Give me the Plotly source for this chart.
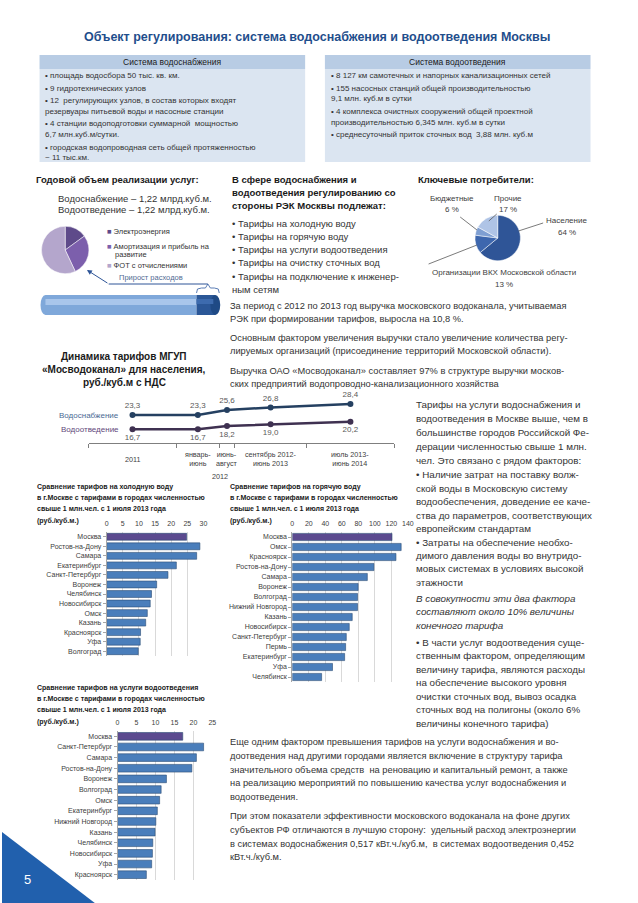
import plotly.graph_objects as go
import pandas as pd

# ---------------- DATA ----------------
cost_labels = ["Электроэнергия", "Амортизация и прибыль на развитие", "ФОТ с отчислениями"]
cost_values = [15, 28, 57]

consumer_labels = ["Население", "Организации ВКХ Московской области", "Бюджетные", "Прочие"]
consumer_values = [64, 13, 6, 17]

period_labels = ["2011", "январь-<br>июнь", "июнь-<br>август", "сентябрь 2012-<br>июнь 2013", "июль 2013-<br>июнь 2014"]
period_start = ["2011-01-01", "2012-01-01", "2012-07-01", "2012-09-01", "2013-07-01"]
period_end = ["2012-01-01", "2012-07-01", "2012-09-01", "2013-07-01", "2014-07-01"]
supply_tariff = [23.3, 23.3, 25.6, 26.8, 28.4]
disposal_tariff = [16.7, 16.7, 18.2, 19.0, 20.2]

cold_cities = ["Москва", "Ростов-на-Дону", "Самара", "Екатеринбург", "Санкт-Петербург", "Воронеж",
               "Челябинск", "Новосибирск", "Омск", "Казань", "Красноярск", "Уфа", "Волгоград"]
cold_values = [24.8, 28.9, 27.9, 21.6, 19.0, 15.5, 13.9, 13.5, 12.6, 12.1, 10.5, 10.4, 9.8]

hot_cities = ["Москва", "Омск", "Красноярск", "Ростов-на-Дону", "Самара", "Воронеж", "Волгоград",
              "Нижний Новгород", "Казань", "Новосибирск", "Санкт-Петербург", "Пермь", "Екатеринбург",
              "Уфа", "Челябинск"]
hot_values = [120.8, 131.9, 125.6, 98.9, 90.9, 79.8, 79.0, 79.0, 72.6, 69.0, 65.4, 64.6, 63.4, 48.7, 35.5]

waste_cities = ["Москва", "Санкт-Петербург", "Самара", "Ростов-на-Дону", "Воронеж", "Волгоград", "Омск",
                "Екатеринбург", "Нижний Новгород", "Казань", "Челябинск", "Новосибирск", "Уфа", "Красноярск"]
waste_values = [17.2, 22.7, 20.8, 19.6, 12.9, 11.5, 11.1, 10.5, 10.1, 9.9, 9.3, 9.2, 9.0, 7.6]

# ---------------- HELPERS ----------------
W, H = 638, 903
FONT = "Liberation Sans"
TXT = "#404040"
BLUE_T = "#1F4E8C"


def fx(x):
    return x / W


def fy(y):
    return 1 - y / H


annotations = []
shapes = []


def txt(x, y, s, size=9.5, color=TXT, bold=False, italic=False, anchor="left"):
    if bold:
        s = "<b>" + s + "</b>"
    if italic:
        s = "<i>" + s + "</i>"
    annotations.append(dict(x=fx(x), y=fy(y), xref="paper", yref="paper", text=s, showarrow=False,
                            xanchor=anchor, yanchor="middle", borderpad=0,
                            font=dict(size=size, color=color, family=FONT)))


def rect(x0, y0, x1, y1, fill, line=None, lw=0):
    shapes.append(dict(type="rect", xref="paper", yref="paper", x0=fx(x0), x1=fx(x1), y0=fy(y1), y1=fy(y0),
                       fillcolor=fill, line=dict(color=line or fill, width=lw), layer="below"))


def path(pts, fill=None, line="#000", lw=1, closed=False, layer="above"):
    d = "M " + " L ".join(f"{fx(a):.5f},{fy(b):.5f}" for a, b in pts)
    if closed:
        d += " Z"
    shapes.append(dict(type="path", xref="paper", yref="paper", path=d,
                       fillcolor=fill if fill else "rgba(0,0,0,0)",
                       line=dict(color=line, width=lw), layer=layer))


def ellipse(x0, y0, x1, y1, fill):
    shapes.append(dict(type="circle", xref="paper", yref="paper", x0=fx(x0), x1=fx(x1), y0=fy(y1), y1=fy(y0),
                       fillcolor=fill, line=dict(width=0), layer="below"))


fig = go.Figure()

# ---------------- TITLE & TABLES ----------------
txt(319, 37, "Объект регулирования: система водоснабжения и водоотведения Москвы", size=12.5,
    color=BLUE_T, bold=True, anchor="center")

for (x0, x1, head) in [(38, 307, "Система водоснабжения"), (327, 596, "Система водоотведения")]:
    rect(x0, 55, x1, 69, "#B8CCE4")
    rect(x0, 69, x1, 162, "#DBE5F1")
    txt((x0 + x1) / 2, 62, head, size=8.5, color="#1a1a1a", anchor="center")

left_lines = ["• площадь водосбора 50 тыс. кв. км.",
              "• 9 гидротехнических узлов",
              "• 12  регулирующих узлов, в состав которых входят",
              "резервуары питьевой воды и насосные станции",
              "• 4 станции водоподготовки суммарной  мощностью",
              "6,7 млн.куб.м/сутки.",
              "• городская водопроводная сеть общей протяженностью",
              "~ 11 тыс.км."]
left_y = [76, 88, 100, 111, 123, 134, 147, 158]
for s, y in zip(left_lines, left_y):
    txt(43, y, s, size=8, color="#333333")

right_lines = ["• 8 127 км самотечных и напорных канализационных сетей",
               "• 155 насосных станций общей производительностью",
               "9,1 млн. куб.м в сутки",
               "• 4 комплекса очистных сооружений общей проектной",
               "производительностью 6,345 млн. куб.м в сутки",
               "• среднесуточный приток сточных вод  3,88 млн. куб.м"]
right_y = [76, 88, 99, 111, 122, 134]
for s, y in zip(right_lines, right_y):
    txt(332, y, s, size=8, color="#333333")

# ---------------- ANNUAL VOLUME / COST PIE ----------------
txt(33, 179, "Годовой объем реализации услуг:", size=9.5, color="#1a1a1a", bold=True)
txt(56, 198, "Водоснабжение – 1,22 млрд.куб.м.", size=9.5, color="#333333")
txt(56, 210, "Водоотведение – 1,22 млрд.куб.м.", size=9.5, color="#333333")

cost_colors = ["#5E4A8A", "#7C5FAC", "#B4A6CC"]
fig.add_trace(go.Pie(labels=cost_labels, values=cost_values, sort=False, direction="clockwise", rotation=0,
                     marker=dict(colors=cost_colors, line=dict(color="white", width=0.5)),
                     textinfo="none", hoverinfo="label+value", showlegend=False,
                     domain=dict(x=[fx(40), fx(88)], y=[fy(274), fy(226)])))

leg_rows = [(231, cost_labels[0], cost_colors[0]), (247, "Амортизация и прибыль на", cost_colors[1]),
            (265, cost_labels[2], cost_colors[2])]
for y, s, c in leg_rows:
    txt(105, y, f"<span style='color:{c}'>■</span> {s}", size=7.5, color="#333333")
txt(113, 255, "развитие", size=7.5, color="#333333")
txt(117, 278, "Прирост расходов", size=7.5, color="#4F6A93")

# cylinder
ellipse(39, 295, 49, 315, "#7FA8DA")
rect(44, 295, 197, 315, "#7FA8DA")
rect(44, 299, 197, 305, "#A9C6EB")
rect(197, 295, 216, 315, "#2B5797")
ellipse(211, 295, 221, 315, "#1F4A85")
rect(197, 299, 214, 304, "#3D6BAE")

# brace and arrow
path([(197, 293), (198, 289), (202, 288), (206, 288), (208.5, 284), (211, 288), (215, 288), (219, 289), (220, 293)],
     line="#5B7DB5", lw=1)
path([(108, 284), (208.5, 284)], line="#2E5597", lw=1)
annotations.append(dict(x=fx(86), y=fy(270), xref="paper", yref="paper", text="", showarrow=True,
                        ax=22, ay=14, arrowhead=2, arrowsize=1, arrowwidth=1, arrowcolor="#2E5597"))

# ---------------- MIDDLE TEXT ----------------
txt(232, 179, "В сфере водоснабжения и", size=9.5, color="#1a1a1a", bold=True)
txt(232, 192, "водоотведения регулированию со", size=9.5, color="#1a1a1a", bold=True)
txt(232, 205, "стороны РЭК Москвы подлежат:", size=9.5, color="#1a1a1a", bold=True)
mid_lines = ["• Тарифы на холодную воду", "• Тарифы на горячую воду", "• Тарифы на услуги водоотведения",
             "• Тарифы на очистку сточных вод", "• Тарифы на подключение к инженер-", "ным сетям"]
for i, s in enumerate(mid_lines):
    txt(232, 223 + i * 13.3, s, size=9.5, color="#333333")

# ---------------- KEY CONSUMERS PIE ----------------
txt(420, 179, "Ключевые потребители:", size=9.5, color="#1a1a1a", bold=True)
cons_colors = ["#2F5597", "#3E67AE", "#7F9FD2", "#AFC4E6"]
fig.add_trace(go.Pie(labels=consumer_labels, values=consumer_values, sort=False, direction="clockwise",
                     rotation=0, marker=dict(colors=cons_colors, line=dict(color="white", width=0.5)),
                     textinfo="none", hoverinfo="label+percent", showlegend=False,
                     domain=dict(x=[fx(479), fx(525)], y=[fy(261), fy(215)])))
txt(456, 198, "Бюджетные", size=8, color="#404040", anchor="center")
txt(456, 209, f"{consumer_values[2]} %", size=8, color="#404040", anchor="center")
txt(512, 198, "Прочие", size=8, color="#404040", anchor="center")
txt(512, 209, f"{consumer_values[3]} %", size=8, color="#404040", anchor="center")
txt(572, 221, "Население", size=8, color="#404040", anchor="center")
txt(572, 233, f"{consumer_values[0]} %", size=8, color="#404040", anchor="center")
txt(508, 272, "Организации ВКХ Московской области", size=8, color="#404040", anchor="center")
txt(508, 284, f"{consumer_values[1]} %", size=8, color="#404040", anchor="center")
path([(464, 217), (481, 230)], line="#595959", lw=0.8)
path([(501, 214), (493, 221)], line="#595959", lw=0.8)
path([(548, 223), (523, 231)], line="#595959", lw=0.8)
path([(432, 264), (481, 245)], line="#595959", lw=0.8)

# ---------------- PARAGRAPHS ----------------
para1 = ["За период с 2012 по 2013 год выручка московского водоканала, учитываемая",
         "РЭК при формировании тарифов, выросла на 10,8 %.",
         "Основным фактором увеличения выручки стало увеличение количества регу-",
         "лируемых организаций (присоединение территорий Московской области).",
         "Выручка ОАО «Мосводоканал» составляет 97% в структуре выручки москов-",
         "ских предприятий водопроводно-канализационного хозяйства"]
for s, y in zip(para1, [306, 319, 338, 351, 371, 384]):
    txt(230, y, s, size=9.3, color="#333333")

# ---------------- LINE CHART ----------------
for i, s in enumerate(["Динамика тарифов МГУП", "«Мосводоканал» для населения,", "руб./куб.м с НДС"]):
    txt(124, 356 + i * 13.5, s, size=10, color="#1a1a1a", bold=True, anchor="center")

starts = pd.to_datetime(period_start)
ends = pd.to_datetime(period_end)
mids = starts + (ends - starts) / 2


def fmt(v):
    return f"{v:.1f}".replace(".", ",")


fig.add_trace(go.Scatter(x=mids, y=supply_tariff, mode="lines+markers+text", text=[fmt(v) for v in supply_tariff],
                         textposition="top center", textfont=dict(size=8, color="#595959", family=FONT),
                         line=dict(color="#254061", width=2.5), marker=dict(size=6, color="#254061"),
                         cliponaxis=False, showlegend=False, xaxis="x", yaxis="y"))
fig.add_trace(go.Scatter(x=mids, y=disposal_tariff, mode="lines+markers+text",
                         text=[fmt(v) for v in disposal_tariff],
                         textposition="bottom center", textfont=dict(size=8, color="#595959", family=FONT),
                         line=dict(color="#3F3151", width=2.5), marker=dict(size=6, color="#3F3151"),
                         cliponaxis=False, showlegend=False, xaxis="x", yaxis="y"))
txt(120, 415, "Водоснабжение", size=8, color="#4A6A94", anchor="right")
txt(120, 429, "Водоотведение", size=8, color="#5F497A", anchor="right")
for m, lab in zip(mids, period_labels):
    annotations.append(dict(x=m, y=fy(459), xref="x", yref="paper", text=lab, showarrow=False,
                            xanchor="center", yanchor="middle", font=dict(size=7.2, color="#404040", family=FONT)))
annotations.append(dict(x=starts[2], y=fy(476), xref="x", yref="paper", text="2012",
                        showarrow=False, xanchor="center", yanchor="middle",
                        font=dict(size=7.2, color="#404040", family=FONT)))


# ---------------- BAR CHARTS ----------------
def bar_colors(n):
    return ["#5B4A8F"] + ["#4A7EBB"] * (n - 1)


fig.add_trace(go.Bar(x=cold_values, y=cold_cities, orientation="h", xaxis="x2", yaxis="y2", width=0.72,
                     marker=dict(color=bar_colors(len(cold_values)), line=dict(color="#2C4D75", width=0.6)),
                     showlegend=False))
fig.add_trace(go.Bar(x=hot_values, y=hot_cities, orientation="h", xaxis="x3", yaxis="y3", width=0.72,
                     marker=dict(color=bar_colors(len(hot_values)), line=dict(color="#2C4D75", width=0.6)),
                     showlegend=False))
fig.add_trace(go.Bar(x=waste_values, y=waste_cities, orientation="h", xaxis="x4", yaxis="y4", width=0.72,
                     marker=dict(color=bar_colors(len(waste_values)), line=dict(color="#2C4D75", width=0.6)),
                     showlegend=False))

bar_titles = [
    (34, 487, ["Сравнение тарифов на холодную воду", "в г.Москве с тарифами в городах численностью",
               "свыше 1 млн.чел. с 1 июля 2013 года", "(руб./куб.м.)"]),
    (230, 487, ["Сравнение тарифов на горячую воду", "в г.Москве с тарифами в городах численностью",
                "свыше 1 млн.чел. с 1 июля 2013 года", "(руб./куб.м.)"]),
    (34, 688, ["Сравнение тарифов на услуги водоотведения", "в г.Москве с тарифами в городах численностью",
               "свыше 1 млн.чел. с 1 июля 2013 года", "(руб./куб.м.)"]),
]
for x, y, lines in bar_titles:
    for i, s in enumerate(lines):
        txt(x, y + i * 11.2, s, size=7, color="#1a1a1a", bold=True)


def xax(dom, rng, dtick, anchor):
    return dict(domain=[fx(dom[0]), fx(dom[1])], range=rng, dtick=dtick, side="top", showgrid=True,
                gridcolor="#D9D9D9", gridwidth=0.7, zeroline=False, showline=False, ticks="",
                ticklabelstandoff=4, anchor=anchor,
                tickfont=dict(size=7, color="#404040", family=FONT), fixedrange=True)


def yax(dom, anchor):
    return dict(domain=[fy(dom[1]), fy(dom[0])], autorange="reversed", showline=True, linecolor="#A6A6A6",
                ticks="outside", ticklen=3, tickcolor="#A6A6A6", anchor=anchor,
                tickfont=dict(size=7, color="#404040", family=FONT), fixedrange=True)


# ---------------- RIGHT COLUMN TEXT ----------------
blockA = ["Тарифы на услуги водоснабжения и", "водоотведения в Москве выше, чем в",
          "большинстве городов Российской Фе-", "дерации численностью свыше 1 млн.",
          "чел. Это связано с рядом факторов:"]
blockB = ["• Наличие затрат на поставку волж-", "ской воды в Московскую систему",
          "водообеспечения, доведение ее каче-", "ства до параметров, соответствующих",
          "европейским стандартам", "• Затраты на обеспечение необхо-",
          "димого давления воды во внутридо-", "мовых системах в условиях высокой", "этажности"]
blockC = ["В совокупности эти два фактора", "составляют около 10% величины", "конечного тарифа"]
blockD = ["• В части услуг водоотведения суще-", "ственным фактором, определяющим",
          "величину тарифа, являются расходы", "на обеспечение высокого уровня",
          "очистки сточных вод, вывоз осадка", "сточных вод на полигоны (около 6%",
          "величины конечного тарифа)"]
for i, s in enumerate(blockA):
    txt(418, 405 + i * 13.8, s, size=9.8, color="#333333")
for i, s in enumerate(blockB):
    txt(418, 475 + i * 13.4, s, size=9.8, color="#333333")
for i, s in enumerate(blockC):
    txt(418, 598 + i * 13.5, s, size=9.8, color="#333333", italic=True)
for i, s in enumerate(blockD):
    txt(418, 642 + i * 13.5, s, size=9.8, color="#333333")

bottom = ["Еще одним фактором превышения тарифов на услуги водоснабжения и во-",
          "доотведения над другими городами является включение в структуру тарифа",
          "значительного объема средств  на реновацию и капитальный ремонт, а также",
          "на реализацию мероприятий по повышению качества услуг водоснабжения и",
          "водоотведения."]
bottom2 = ["При этом показатели эффективности московского водоканала на фоне других",
           "субъектов РФ отличаются в лучшую сторону:  удельный расход электроэнергии",
           "в системах водоснабжения 0,517 кВт.ч./куб.м,  в системах водоотведения 0,452",
           "кВт.ч./куб.м."]
for i, s in enumerate(bottom):
    txt(230, 742 + i * 13.8, s, size=9.3, color="#333333")
for i, s in enumerate(bottom2):
    txt(230, 816 + i * 13.8, s, size=9.3, color="#333333")

# ---------------- PAGE NUMBER ----------------
path([(0, 832), (94, 903), (0, 903)], fill="#2160AD", line="#2160AD", lw=0, closed=True, layer="below")
txt(26, 879, "5", size=13, color="white", anchor="center")

fig.update_layout(
    width=W, height=H, margin=dict(l=0, r=0, t=0, b=0), autosize=False,
    paper_bgcolor="white", plot_bgcolor="rgba(0,0,0,0)", showlegend=False,
    font=dict(family=FONT, color=TXT),
    xaxis=dict(domain=[fx(88), fx(397)], type="date",
               range=[starts[0], ends[-1]], tickvals=list(starts) + [ends[-1]],
               showticklabels=False, ticks="outside", ticklen=4, tickcolor="#7F7F7F",
               showline=True, linecolor="#7F7F7F", showgrid=False, zeroline=False, anchor="y", fixedrange=True),
    yaxis=dict(domain=[fy(443), fy(391)], range=[10.3, 34.4], visible=False, anchor="x", fixedrange=True),
    xaxis2=xax((106, 204), [0, 30], 5, "y2"), yaxis2=yax((532, 656), "x2"),
    xaxis3=xax((294, 411), [0, 140], 20, "y3"), yaxis3=yax((532, 682), "x3"),
    xaxis4=xax((117, 213), [0, 25], 5, "y4"), yaxis4=yax((731, 880), "x4"),
    bargap=0.25,
    annotations=annotations, shapes=shapes,
)

fig.write_html("out.html", config={"displayModeBar": False},
               post_script="document.body.style.margin='0px';document.body.style.overflow='hidden';")
